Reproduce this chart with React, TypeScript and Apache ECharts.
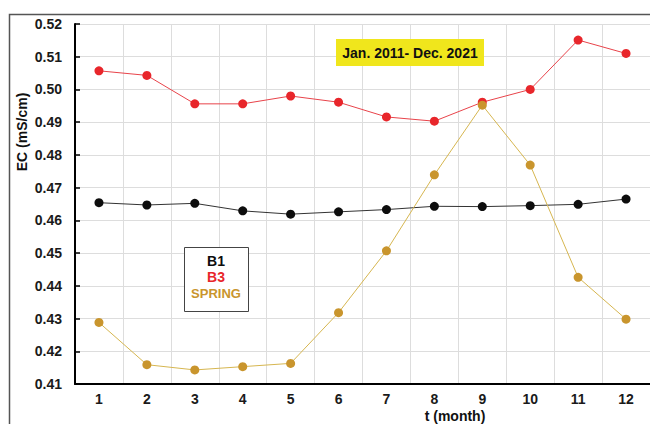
import React, { useEffect, useRef } from "react";
import * as echarts from "echarts";

// Monthly mean electrical conductivity, Jan. 2011 - Dec. 2021
const months = ["1", "2", "3", "4", "5", "6", "7", "8", "9", "10", "11", "12"];
const b1 = [0.4654, 0.4647, 0.4652, 0.4629, 0.4619, 0.4626, 0.4633, 0.4643, 0.4642, 0.4645, 0.4649, 0.4665];
const b3 = [0.5057, 0.5043, 0.4956, 0.4956, 0.498, 0.4961, 0.4916, 0.4903, 0.4961, 0.5, 0.5151, 0.511];
const spring = [0.4288, 0.4159, 0.4143, 0.4153, 0.4163, 0.4318, 0.4507, 0.4739, 0.4952, 0.4769, 0.4426, 0.4298];

const FONT = "'Liberation Sans', Arial, sans-serif";
const RED = "#e8262b";
const GOLD = "#c9952d";
const BLACK = "#0d0d0d";

export default function App() {
  const ref = useRef<HTMLDivElement>(null);

  useEffect(() => {
    if (!ref.current) return;
    const chart = echarts.init(ref.current, null, { renderer: "svg" });

    const mkSeries = (name: string, data: number[], dot: string, line: string) => ({
      name,
      type: "line",
      data,
      symbol: "circle",
      symbolSize: 9,
      itemStyle: { color: dot },
      lineStyle: { color: line, width: 1 },
    });

    chart.setOption({
      animation: false,
      backgroundColor: "#ffffff",
      grid: { left: 75, top: 24, right: -4, bottom: 40 },
      xAxis: {
        type: "category",
        data: months,
        boundaryGap: true,
        axisLine: { lineStyle: { color: "#000", width: 2 } },
        axisTick: { inside: true, length: 4, lineStyle: { color: "#000", width: 1.5 } },
        axisLabel: { margin: 8, fontFamily: FONT, fontSize: 14, fontWeight: "bold", color: "#1a1a1a" },
        splitLine: { show: true, interval: 0, lineStyle: { color: "#dddddd", width: 1 } },
      },
      yAxis: {
        type: "value",
        min: 0.41,
        max: 0.52,
        interval: 0.01,
        axisLine: { show: true, lineStyle: { color: "#000", width: 2 } },
        axisTick: { show: true, inside: true, length: 5, lineStyle: { color: "#000", width: 1.5 } },
        axisLabel: {
          margin: 13,
          fontFamily: FONT,
          fontSize: 14,
          fontWeight: "bold",
          color: "#1a1a1a",
          formatter: (v: number) => v.toFixed(2),
        },
        splitLine: { show: true, lineStyle: { color: "#dddddd", width: 1 } },
      },
      series: [
        mkSeries("B1", b1, BLACK, "#333333"),
        mkSeries("B3", b3, RED, "#e8434a"),
        mkSeries("SPRING", spring, GOLD, "#d6b650"),
      ],
      graphic: [
        // outer frame
        {
          type: "rect",
          left: 7,
          top: 12,
          z: 100,
          shape: { width: 700, height: 500 },
          style: { fill: "none", stroke: "#555555", lineWidth: 1.5 },
          silent: true,
        },
        // period label
        {
          type: "rect",
          left: 336,
          top: 39,
          z: 100,
          shape: { width: 148, height: 27 },
          style: { fill: "#f0e61c" },
        },
        {
          type: "text",
          x: 410,
          y: 53,
          z: 101,
          style: {
            text: "Jan. 2011- Dec. 2021",
            fill: "#111",
            font: `bold 14px ${FONT}`,
            align: "center",
            verticalAlign: "middle",
          },
        },
        // legend box
        {
          type: "rect",
          left: 184,
          top: 247,
          z: 100,
          shape: { width: 64, height: 64 },
          style: { fill: "#ffffff", stroke: "#444444", lineWidth: 1 },
        },
        {
          type: "text",
          x: 216,
          y: 261,
          z: 101,
          style: { text: "B1", fill: BLACK, font: `bold 14px ${FONT}`, align: "center", verticalAlign: "middle" },
        },
        {
          type: "text",
          x: 216,
          y: 277,
          z: 101,
          style: { text: "B3", fill: RED, font: `bold 14px ${FONT}`, align: "center", verticalAlign: "middle" },
        },
        {
          type: "text",
          x: 216,
          y: 293,
          z: 101,
          style: { text: "SPRING", fill: GOLD, font: `bold 13px ${FONT}`, align: "center", verticalAlign: "middle" },
        },
        // axis titles
        {
          type: "text",
          x: 455,
          y: 416,
          z: 101,
          style: { text: "t (month)", fill: "#111", font: `bold 14px ${FONT}`, align: "center", verticalAlign: "middle" },
        },
        {
          type: "text",
          x: 22,
          y: 132,
          rotation: Math.PI / 2,
          z: 101,
          style: { text: "EC (mS/cm)", fill: "#111", font: `bold 14px ${FONT}`, align: "center", verticalAlign: "middle" },
        },
      ],
    });

    return () => chart.dispose();
  }, []);

  return (
    <div
      ref={ref}
      style={{ position: "fixed", left: 0, top: 0, width: 650, height: 424, background: "#fff" }}
    />
  );
}
